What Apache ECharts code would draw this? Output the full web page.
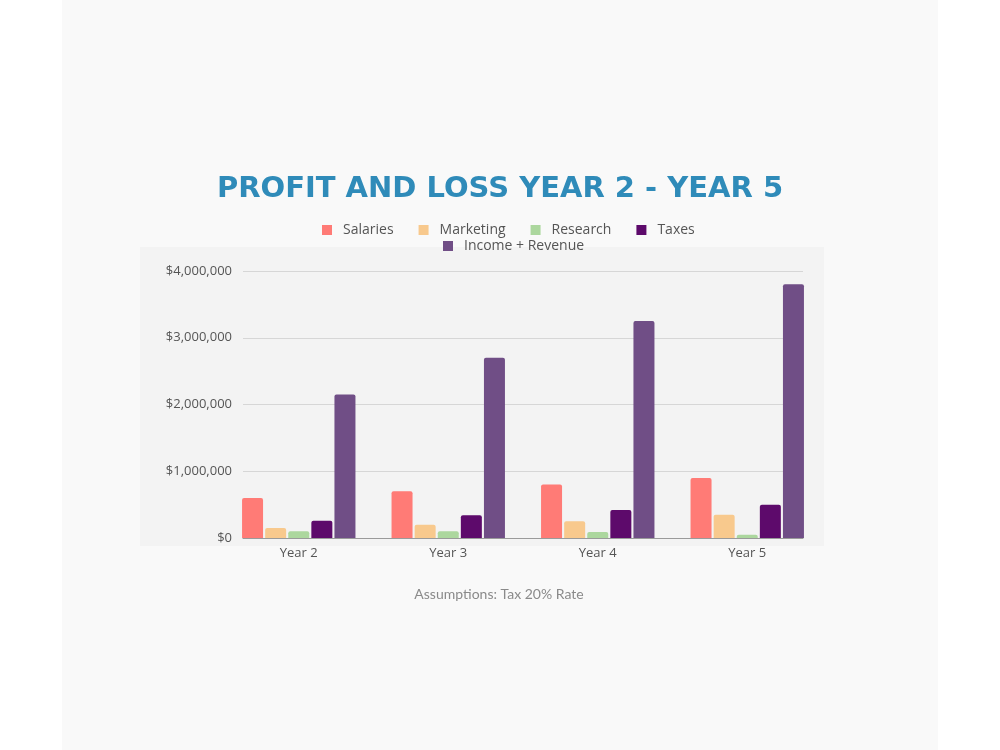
<!DOCTYPE html>
<html>
<head>
<meta charset="utf-8">
<script src="https://cdn.jsdelivr.net/npm/echarts@6/dist/echarts.min.js"></script>
<style>
 html,body{margin:0;padding:0;background:#fff;}
 #chart{width:1000px;height:750px;}
</style>
</head>
<body>
<div id="chart"></div>
<script>
// ---- data ----
var years=['Year 2','Year 3','Year 4','Year 5'];
var salaries =[600000,700000,800000,900000];
var marketing=[150000,200000,250000,350000];
var research =[100000,100000,90000,50000];
var taxes    =[260000,340000,420000,500000];
var income   =[2150000,2700000,3250000,3800000];
var yTicks=[0,1000000,2000000,3000000,4000000];

var FONT='Open Sans';
var colors={sal:'#ff7b76',mkt:'#f8c98d',res:'#acd79e',tax:'#5d0a6b',inc:'#704e86'};

function usd(v){return '$'+Math.round(v).toLocaleString('en-US');}

function bar(name,data,color){
 return {name:name,type:'bar',data:data,xAxisIndex:0,yAxisIndex:0,
  barWidth:21,barGap:'10%',itemStyle:{color:color,borderRadius:[2,2,0,0]}};
}

var chart=echarts.init(document.getElementById('chart'),null,{renderer:'canvas'});
chart.setOption({
 animation:false,
 backgroundColor:'#ffffff',
 textStyle:{fontFamily:FONT},
 graphic:[
  {type:'rect',z:-10,shape:{x:62,y:0,width:876,height:750},style:{fill:'#f9f9f9'},silent:true},
  {type:'rect',z:-9,shape:{x:140,y:247,width:684,height:299},style:{fill:'#f3f3f3'},silent:true},
  {type:'text',x:499,y:594,style:{text:'Assumptions: Tax 20% Rate',align:'center',verticalAlign:'middle',
    fill:'#8a8a8a',font:'14px "Lato"'}}
 ],
 title:{text:'PROFIT AND LOSS YEAR 2 - YEAR 5',left:'center',top:170,
  textStyle:{color:'#2f8bb9',fontSize:29,fontWeight:900,fontFamily:'DejaVu Sans'}},
 legend:[
  {data:['Salaries','Marketing','Research','Taxes'],left:317,top:218,
   icon:'rect',itemWidth:10,itemHeight:10,itemGap:25,
   textStyle:{color:'#555',fontSize:14,padding:[0,0,0,6]}},
  {data:['Income + Revenue'],left:438,top:234,
   icon:'rect',itemWidth:10,itemHeight:10,
   textStyle:{color:'#555',fontSize:14,padding:[0,0,0,6]}}
 ],
 grid:[
  {left:224,right:178,top:271,bottom:212},
  {left:243,right:197,top:271,bottom:212}
 ],
 xAxis:[
  {type:'category',gridIndex:0,data:years,
   axisLine:{show:false},axisTick:{show:false},
   axisLabel:{color:'#555',fontSize:13,margin:9}},
  {type:'value',gridIndex:1,min:0,max:1,
   axisLine:{show:true,lineStyle:{color:'#9a9a9a',width:1}},
   axisTick:{show:false},axisLabel:{show:false},splitLine:{show:false}}
 ],
 yAxis:[
  {type:'value',gridIndex:0,min:0,max:4000000,show:false},
  {type:'value',gridIndex:1,min:0,max:4000000,interval:1000000,
   axisLine:{show:false},axisTick:{show:false},
   axisLabel:{color:'#555',fontSize:13,margin:11,
    formatter:function(v){return yTicks.indexOf(v)>=0?usd(v):'';}},
   splitLine:{lineStyle:{color:'#d6d6d6',width:1}}}
 ],
 series:[
  bar('Salaries',salaries,colors.sal),
  bar('Marketing',marketing,colors.mkt),
  bar('Research',research,colors.res),
  bar('Taxes',taxes,colors.tax),
  bar('Income + Revenue',income,colors.inc)
 ]
});
</script>
</body>
</html>
